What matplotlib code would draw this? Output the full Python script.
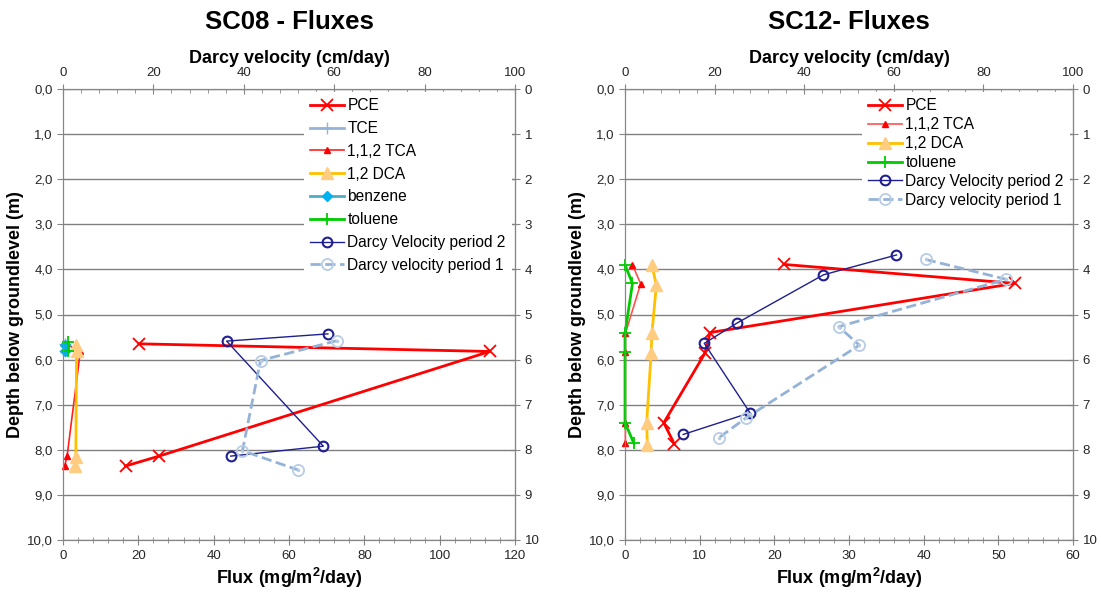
import numpy as np
import matplotlib
matplotlib.use("Agg")
import matplotlib.pyplot as plt
from matplotlib.ticker import MultipleLocator, FuncFormatter

plt.rcParams['font.family'] = ['Liberation Sans', 'DejaVu Sans']

# SC08 (flux in mg/m2/day, depth in m, darcy in cm/day)
pce08_flux = [20.2, 113.3, 25.5, 16.6]
pce08_depth = [5.65, 5.82, 8.14, 8.36]
tce08_flux = [0.6, 0.6]
tce08_depth = [5.65, 5.82]
tca08_flux = [0.8, 4.6, 1.1, 0.4]
tca08_depth = [5.65, 5.82, 8.13, 8.37]
dca08_flux = [3.5, 3.6, 3.4, 3.3]
dca08_depth = [5.68, 5.82, 8.17, 8.37]
benz08_flux = [0.5, 0.4]
benz08_depth = [5.68, 5.82]
tol08_flux = [1.3, 1.3]
tol08_depth = [5.6, 5.8]
dv2_08 = [58.6, 36.2, 57.6, 37.1]
dv2_08_depth = [5.43, 5.59, 7.92, 8.14]
dv1_08 = [60.6, 43.7, 39.7, 52.1]
dv1_08_depth = [5.58, 6.02, 8.02, 8.45]

# SC12
pce12_flux = [21.3, 52.2, 11.4, 10.7, 5.2, 6.6]
pce12_depth = [3.89, 4.31, 5.40, 5.86, 7.40, 7.87]
tca12_flux = [1.0, 2.1, 0.05, 0.05, 0.05, 0.05]
tca12_depth = [3.9, 4.32, 5.42, 5.83, 7.41, 7.85]
dca12_flux = [3.6, 4.2, 3.6, 3.5, 2.9, 3.0]
dca12_depth = [3.9, 4.35, 5.42, 5.85, 7.41, 7.89]
tol12_flux = [0.0, 1.0, 0.0, 0.0, 0.0, 1.2]
tol12_depth = [3.9, 4.31, 5.42, 5.83, 7.40, 7.86]
dv2_12 = [60.6, 44.3, 25.0, 17.7, 27.9, 13.0]
dv2_12_depth = [3.68, 4.12, 5.19, 5.64, 7.18, 7.66]
dv1_12 = [67.1, 85.1, 47.7, 52.3, 26.9, 21.0]
dv1_12_depth = [3.78, 4.22, 5.27, 5.68, 7.30, 7.73]

W, H = 1101, 593
fig = plt.figure(figsize=(W / 100, H / 100), dpi=100)

grey = '#868686'
tcol = '#262626'


def styles(ax, ax2, xmax, xmaj, xmin):
    ax.set_ylim(10, 0)
    ax.set_xlim(0, xmax)
    ax2.set_xlim(0, 100)
    ax.yaxis.set_major_locator(MultipleLocator(1))
    ax.yaxis.set_major_formatter(FuncFormatter(lambda v, p: ('%.1f' % v).replace('.', ',')))
    ax.xaxis.set_major_locator(MultipleLocator(xmaj))
    ax.xaxis.set_minor_locator(MultipleLocator(xmin))
    ax2.xaxis.set_major_locator(MultipleLocator(20))
    ax2.xaxis.set_minor_locator(MultipleLocator(4))
    ax.grid(axis='y', color='#808080', lw=1)
    ax.set_axisbelow(True)
    for a in (ax, ax2):
        for s in a.spines.values():
            s.set_color(grey)
    ax.tick_params(axis='y', direction='out', length=4, color=grey, labelsize=9.5, labelcolor=tcol)
    ax.tick_params(axis='x', which='major', direction='inout', length=7, color=grey, labelsize=9.5, labelcolor=tcol)
    ax.tick_params(axis='x', which='minor', direction='inout', length=4, color=grey)
    ax2.tick_params(axis='x', which='major', direction='inout', length=7, color=grey, labelsize=9.5, labelcolor=tcol)
    ax2.tick_params(axis='x', which='minor', direction='in', length=3, color=grey)
    sec = ax.secondary_yaxis('right')
    sec.yaxis.set_major_locator(MultipleLocator(1))
    sec.yaxis.set_major_formatter(FuncFormatter(lambda v, p: '%d' % v))
    sec.tick_params(direction='inout', length=7, color=grey, labelsize=9.5, labelcolor=tcol)
    sec.spines['right'].set_color(grey)
    ax.set_xlabel('Flux (mg/m$\\mathregular{^2}$/day)', fontsize=13, fontweight='bold', labelpad=3)
    ax2.set_xlabel('Darcy velocity (cm/day)', fontsize=13, fontweight='bold', labelpad=3)
    ax.set_ylabel('Depth below groundlevel (m)', fontsize=13, fontweight='bold', labelpad=2)


kw_pce = dict(color='#FF0000', lw=2, marker='x', ms=8, mew=1.3, clip_on=False)
kw_tce = dict(color='#95B3D7', lw=2, marker='+', ms=8, clip_on=False)
kw_tca = dict(color='#FF2020', lw=1.2, marker='^', ms=5, mfc='#FF0000', mec='#FF0000', clip_on=False)
kw_dca = dict(color='#FFC000', lw=2, marker='^', ms=8, mfc='#FFCC80', mec='#FFCC80', clip_on=False)
kw_benz = dict(color='#4BACC6', lw=2, marker='D', ms=5, mfc='#00B0F0', mec='#00B0F0', clip_on=False)
kw_tol = dict(color='#00CC00', lw=2, marker='+', ms=9, mew=1.3, clip_on=False)
kw_dv2 = dict(color='#1F1F8F', lw=1, marker='o', ms=7, mfc='none', mew=1.5, clip_on=False)
kw_dv1 = dict(color='#95B3D7', lw=2, ls='--', marker='o', ms=8, mfc='none', mec='#B8CCE4', mew=1.3, clip_on=False)
leg_kw = dict(loc='upper right', fontsize=11.2, frameon=True, fancybox=False, edgecolor='none',
              facecolor='white', framealpha=1, borderaxespad=0.2, handlelength=2.2,
              handletextpad=0.2, borderpad=0.4)

# left panel
axL = fig.add_axes([63 / W, 1 - 540 / H, 452 / W, 451 / H])
axL2 = axL.twiny()
styles(axL, axL2, 120, 20, 4)
axL.plot(pce08_flux, pce08_depth, label='PCE', **kw_pce)
axL.plot(tce08_flux, tce08_depth, label='TCE', **kw_tce)
axL.plot(tca08_flux, tca08_depth, label='1,1,2 TCA', **kw_tca)
axL.plot(dca08_flux, dca08_depth, label='1,2 DCA', **kw_dca)
axL.plot(benz08_flux, benz08_depth, label='benzene', **kw_benz)
axL.plot(tol08_flux, tol08_depth, label='toluene', **kw_tol)
axL2.plot(dv2_08, dv2_08_depth, label='Darcy Velocity period 2', **kw_dv2)
axL2.plot(dv1_08, dv1_08_depth, label='Darcy velocity period 1', **kw_dv1)
axL2.plot(dv1_08, dv1_08_depth, ls='none', marker='.', ms=3, color='#B8CCE4')
h1, l1 = axL.get_legend_handles_labels()
h2, l2 = axL2.get_legend_handles_labels()
axL2.legend(h1 + h2, l1 + l2, labelspacing=0.5, **leg_kw)
fig.text(289 / W, 1 - 22 / H, 'SC08 - Fluxes', ha='center', va='center', fontsize=18.5, fontweight='bold')

# right panel
axR = fig.add_axes([625 / W, 1 - 540 / H, 448 / W, 451 / H])
axR2 = axR.twiny()
styles(axR, axR2, 60, 10, 2)
axR.plot(pce12_flux, pce12_depth, label='PCE', **kw_pce)
axR.plot(tca12_flux, tca12_depth, label='1,1,2 TCA', **dict(kw_tca, color='#FF5050'))
axR.plot(dca12_flux, dca12_depth, label='1,2 DCA', **kw_dca)
axR.plot(tol12_flux, tol12_depth, label='toluene', **kw_tol)
axR2.plot(dv2_12, dv2_12_depth, label='Darcy Velocity period 2', **kw_dv2)
axR2.plot(dv1_12, dv1_12_depth, label='Darcy velocity period 1', **kw_dv1)
axR2.plot(dv1_12, dv1_12_depth, ls='none', marker='.', ms=3, color='#B8CCE4')
h1, l1 = axR.get_legend_handles_labels()
h2, l2 = axR2.get_legend_handles_labels()
axR2.legend(h1 + h2, l1 + l2, labelspacing=0.25, **leg_kw)
fig.text(849 / W, 1 - 22 / H, 'SC12- Fluxes', ha='center', va='center', fontsize=18.5, fontweight='bold')

fig.savefig('out.png', dpi=100)
